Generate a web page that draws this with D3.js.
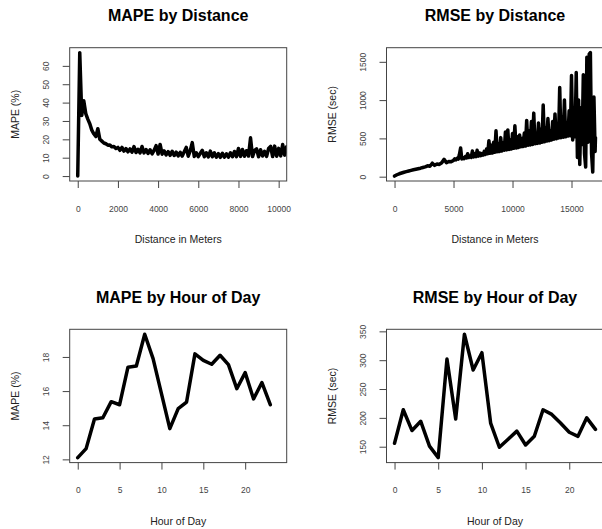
<!DOCTYPE html>
<html>
<head>
<meta charset="utf-8">
<script src="https://cdn.jsdelivr.net/npm/d3@7"></script>
<style>
  html, body { margin: 0; padding: 0; background: #fff; }
  svg { display: block; font-family: "Liberation Sans", Arial, Helvetica, sans-serif; }
  .tick text { fill: #444; font-size: 8.5px; }
  .tick line { stroke: #444; }
  .axis-title { fill: #222; font-size: 10.5px; }
  .main-title { fill: #000; font-size: 16px; font-weight: bold; }
</style>
</head>
<body>
<svg id="chart"></svg>
<script>
var width = 602;
var height = 529;

// MAPE (%) by distance, [meters, value]
var mapeByDistance = [
  [0, 0], [100, 67.2], [200, 33], [300, 41], [400, 34], [500, 31], [600, 28.5], [700, 25],
  [800, 23], [900, 21.5], [1000, 25.8], [1100, 20], [1200, 19], [1300, 18], [1400, 17.6],
  [1500, 16.8], [1600, 16.9], [1700, 15.9], [1800, 16.1], [1900, 15.0], [2000, 15.6],
  [2100, 14.0], [2200, 15.6], [2300, 13.6], [2400, 15.0], [2500, 13.2], [2600, 14.8],
  [2700, 13.0], [2800, 16.0], [2900, 12.8], [3000, 14.6], [3100, 12.6], [3200, 16.1],
  [3300, 12.6], [3400, 14.4], [3500, 12.3], [3600, 14.3], [3700, 12.1], [3800, 14.0],
  [3900, 16.6], [4000, 12.0], [4100, 17.2], [4200, 11.9], [4300, 13.7], [4400, 11.5],
  [4500, 13.3], [4600, 11.3], [4700, 13.5], [4800, 11.2], [4900, 13.0], [5000, 11.0],
  [5100, 12.9], [5200, 10.9], [5300, 13.2], [5400, 15.6], [5500, 10.8], [5600, 13.8],
  [5700, 18.2], [5800, 10.7], [5900, 12.7], [6000, 10.6], [6100, 12.4], [6200, 14.0],
  [6300, 10.5], [6400, 12.7], [6500, 10.4], [6600, 13.6], [6700, 10.5], [6800, 12.6],
  [6900, 10.3], [7000, 12.2], [7100, 10.2], [7200, 12.4], [7300, 10.3], [7400, 12.1],
  [7500, 10.3], [7600, 12.7], [7700, 10.5], [7800, 13.4], [7900, 10.6], [8000, 15.0],
  [8100, 10.7], [8200, 14.5], [8300, 10.8], [8400, 13.8], [8500, 10.9], [8600, 20.8],
  [8700, 10.6], [8800, 14.0], [8900, 14.8], [9000, 10.5], [9100, 14.3], [9200, 10.9],
  [9300, 13.5], [9400, 10.7], [9500, 15.0], [9600, 16.2], [9700, 10.6], [9800, 16.3],
  [9900, 10.8], [10000, 15.1], [10100, 11.0], [10200, 17.2], [10300, 11.4], [10400, 16.0]
];

// RMSE (sec) by distance, [meters, value]
var rmseByDistance = [
  [0, 8], [200, 25], [400, 38], [600, 48], [800, 58], [1000, 66], [1200, 74], [1400, 82],
  [1600, 90], [1800, 97], [2000, 104], [2200, 111], [2400, 120], [2600, 128], [2800, 142],
  [3000, 136], [3200, 176], [3400, 148], [3600, 166], [3800, 160], [4000, 182], [4200, 226],
  [4400, 182], [4600, 198], [4800, 196], [5000, 212], [5100, 232], [5200, 220], [5300, 240],
  [5400, 228], [5500, 290], [5600, 375], [5700, 232], [5800, 250], [5900, 236], [6000, 262],
  [6100, 245], [6200, 300], [6300, 250], [6400, 270], [6500, 252], [6600, 335], [6700, 258],
  [6800, 300], [6900, 262], [7000, 345], [7100, 268], [7200, 310], [7300, 275], [7400, 300],
  [7500, 280], [7600, 330], [7700, 290], [7800, 360], [7900, 300], [8000, 470], [8100, 305],
  [8200, 410], [8300, 310], [8400, 450], [8500, 320], [8600, 600], [8700, 325], [8800, 430],
  [8900, 330], [9000, 510], [9100, 335], [9200, 440], [9300, 345], [9400, 585], [9500, 350],
  [9600, 610], [9700, 355], [9800, 480], [9900, 360], [10000, 565], [10100, 370], [10200, 665],
  [10300, 375], [10400, 520], [10500, 380], [10600, 545], [10700, 390], [10800, 500],
  [10900, 395], [11000, 570], [11100, 400], [11200, 735], [11300, 410], [11400, 600],
  [11500, 415], [11600, 720], [11700, 420], [11800, 830], [11900, 430], [12000, 560],
  [12100, 435], [12200, 700], [12300, 440], [12400, 620], [12500, 450], [12600, 935],
  [12700, 455], [12800, 640], [12900, 465], [13000, 760], [13100, 470], [13200, 600],
  [13300, 480], [13400, 720], [13500, 490], [13600, 820], [13700, 495], [13800, 680],
  [13900, 505], [14000, 1165], [14100, 510], [14200, 780], [14300, 515], [14400, 1000],
  [14500, 520], [14600, 700], [14700, 530], [14800, 860], [14900, 535], [15000, 1320],
  [15100, 480], [15200, 900], [15300, 520], [15400, 1360], [15500, 250], [15600, 1000],
  [15700, 160], [15800, 900], [15900, 420], [16000, 1330], [16100, 300], [16200, 125],
  [16300, 1560], [16400, 450], [16500, 1600], [16600, 1620], [16700, 300], [16800, 60],
  [16900, 1040], [17000, 330], [17030, 510]
];

var hours = [0, 1, 2, 3, 4, 5, 6, 7, 8, 9, 10, 11, 12, 13, 14, 15, 16, 17, 18, 19, 20, 21, 22, 23];
var mapeByHour = [12.1, 12.63, 14.37, 14.44, 15.38, 15.2, 17.4, 17.47, 19.33, 17.9, 15.85, 13.8,
                  14.97, 15.36, 18.18, 17.8, 17.57, 18.1, 17.55, 16.14, 17.08, 15.54, 16.5, 15.2];
var rmseByHour = [156, 214, 178, 194, 151, 131, 302, 198, 345, 283, 313, 191,
                  149, 163, 177, 153, 168, 214, 206, 191, 175, 168, 200, 180];

var mapeDistXTicks = [0, 2000, 4000, 6000, 8000, 10000];
var mapeDistYTicks = [0, 10, 20, 30, 40, 50, 60];
var rmseDistXTicks = [0, 5000, 10000, 15000];
var rmseDistYTicks = [0, 500, 1000, 1500];
var hourXTicks = [0, 5, 10, 15, 20];
var mapeHourYTicks = [12, 14, 16, 18];
var rmseHourYTicks = [150, 200, 250, 300, 350];

// R style axis range: 4% padding on both ends
function rPad(ext) {
  var p = (ext[1] - ext[0]) * 0.04;
  return [ext[0] - p, ext[1] + p];
}

var boxW = 217;
var boxH = 133.3;

var svg = d3.select("#chart")
  .attr("width", width)
  .attr("height", height);

var panelCount = 0;

function drawPanel(opt) {
  var x0 = opt.left, y0 = opt.top;
  var x = d3.scaleLinear().domain(rPad(opt.xlim)).range([x0, x0 + boxW]);
  var y = d3.scaleLinear().domain(rPad(opt.ylim)).range([y0 + boxH, y0]);

  var clipId = "clip" + (panelCount++);
  svg.append("clipPath").attr("id", clipId)
    .append("rect")
    .attr("x", x0).attr("y", y0)
    .attr("width", boxW).attr("height", boxH);

  var line = d3.line()
    .x(function(d) { return x(d[0]); })
    .y(function(d) { return y(d[1]); });

  svg.append("path")
    .datum(opt.data)
    .attr("clip-path", "url(#" + clipId + ")")
    .attr("d", line)
    .attr("fill", "none")
    .attr("stroke", "#000")
    .attr("stroke-width", 3.5)
    .attr("stroke-linejoin", "round")
    .attr("stroke-linecap", "round");

  // box
  svg.append("rect")
    .attr("x", x0).attr("y", y0)
    .attr("width", boxW).attr("height", boxH)
    .attr("fill", "none")
    .attr("stroke", "#444")
    .attr("stroke-width", 1);

  var xAxis = svg.append("g")
    .attr("transform", "translate(0," + (y0 + boxH) + ")")
    .call(d3.axisBottom(x).tickValues(opt.xTicks).tickSize(7).tickSizeOuter(0).tickFormat(d3.format("d")));
  xAxis.select(".domain").remove();
  xAxis.selectAll(".tick text")
    .attr("y", 30.5)
    .attr("dy", 0);

  var yAxis = svg.append("g")
    .attr("transform", "translate(" + x0 + ",0)")
    .call(d3.axisLeft(y).tickValues(opt.yTicks).tickSize(7).tickSizeOuter(0).tickFormat(d3.format("d")));
  yAxis.select(".domain").remove();
  yAxis.selectAll(".tick text")
    .attr("transform", "rotate(-90)")
    .attr("x", 0)
    .attr("y", -20.5)
    .attr("dy", 0)
    .attr("text-anchor", "middle");
  svg.selectAll("g").attr("font-family", null).attr("font-size", null);

  svg.append("text")
    .attr("class", "main-title")
    .attr("x", x0 + boxW / 2)
    .attr("y", y0 - 26.4)
    .attr("text-anchor", "middle")
    .text(opt.title);

  svg.append("text")
    .attr("class", "axis-title")
    .attr("x", x0 + boxW / 2)
    .attr("y", y0 + boxH + 62)
    .attr("text-anchor", "middle")
    .text(opt.xlabel);

  svg.append("text")
    .attr("class", "axis-title")
    .attr("transform", "translate(" + (x0 - 51) + "," + (y0 + boxH / 2) + ") rotate(-90)")
    .attr("text-anchor", "middle")
    .text(opt.ylabel);
}

var hourMape = hours.map(function(h, i) { return [h, mapeByHour[i]]; });
var hourRmse = hours.map(function(h, i) { return [h, rmseByHour[i]]; });

drawPanel({
  left: 69.7, top: 47.7,
  data: mapeByDistance,
  xlim: [0, 10000],
  ylim: d3.extent(mapeByDistance, function(d) { return d[1]; }),
  xTicks: mapeDistXTicks, yTicks: mapeDistYTicks,
  title: "MAPE by Distance", xlabel: "Distance in Meters", ylabel: "MAPE (%)"
});

drawPanel({
  left: 386.5, top: 47.7,
  data: rmseByDistance,
  xlim: d3.extent(rmseByDistance, function(d) { return d[0]; }),
  ylim: d3.extent(rmseByDistance, function(d) { return d[1]; }),
  xTicks: rmseDistXTicks, yTicks: rmseDistYTicks,
  title: "RMSE by Distance", xlabel: "Distance in Meters", ylabel: "RMSE (sec)"
});

drawPanel({
  left: 69.7, top: 329.3,
  data: hourMape,
  xlim: [0, 24],
  ylim: d3.extent(mapeByHour),
  xTicks: hourXTicks, yTicks: mapeHourYTicks,
  title: "MAPE by Hour of Day", xlabel: "Hour of Day", ylabel: "MAPE (%)"
});

drawPanel({
  left: 386.5, top: 329.3,
  data: hourRmse,
  xlim: d3.extent(hours),
  ylim: d3.extent(rmseByHour),
  xTicks: hourXTicks, yTicks: rmseHourYTicks,
  title: "RMSE by Hour of Day", xlabel: "Hour of Day", ylabel: "RMSE (sec)"
});
</script>
</body>
</html>
